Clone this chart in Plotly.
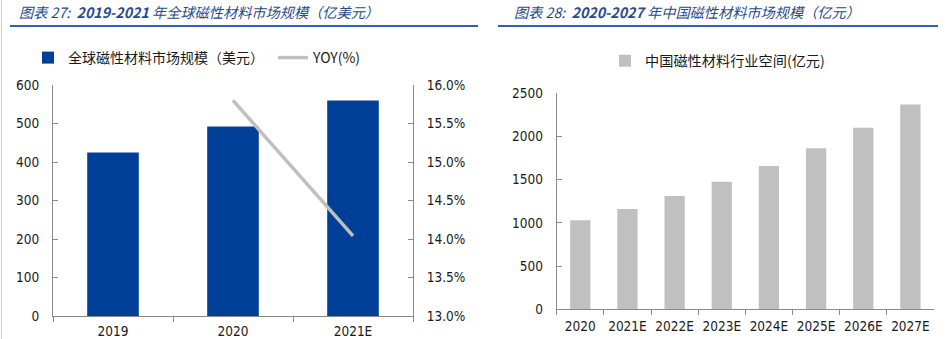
import plotly.graph_objects as go

# ---- data ----
cats_global = ["2019", "2020", "2021E"]
global_market = [425, 492, 560]          # 亿美元
yoy_cats = ["2020", "2021E"]
yoy_pct = [0.158, 0.1404]                # YOY

cats_china = ["2020", "2021E", "2022E", "2023E", "2024E", "2025E", "2026E", "2027E"]
china_market = [1030, 1160, 1310, 1475, 1660, 1865, 2100, 2370]  # 亿元

W, H = 949, 339
def px(x): return x / W
def py(y): return 1 - y / H

TICKFONT = dict(family="DejaVu Sans Condensed, Tahoma, Liberation Sans, sans-serif", size=13.5, color="#1a1a1a")
CJK = "Noto Sans CJK SC"
AX = "#8a8a8a"

fig = go.Figure()
fig.add_trace(go.Bar(x=cats_global, y=global_market, name="全球磁性材料市场规模（美元）",
                     marker=dict(color="#003F98", line=dict(width=0)),
                     xaxis="x", yaxis="y", legend="legend"))
fig.add_trace(go.Scatter(x=yoy_cats, y=yoy_pct, name="YOY(%)", mode="lines",
                         line=dict(color="#BFBFBF", width=3.5),
                         xaxis="x", yaxis="y2", legend="legend"))
fig.add_trace(go.Bar(x=cats_china, y=china_market, name="中国磁性材料行业空间(亿元)",
                     marker=dict(color="#C0C0C0", line=dict(width=0)),
                     xaxis="x3", yaxis="y3", legend="legend2"))

common_x = dict(type="category", showline=True, linecolor=AX, linewidth=1,
                ticks="outside", tickson="boundaries", ticklen=5, tickcolor=AX,
                showgrid=False, zeroline=False, tickfont=TICKFONT, fixedrange=True,
                automargin=False, tickangle=0)
common_y = dict(showline=True, linecolor=AX, linewidth=1, ticks="inside", ticklen=5,
                tickcolor=AX, showgrid=False, zeroline=False, tickfont=TICKFONT,
                automargin=False, ticklabelstandoff=10)

fig.update_layout(
    width=W, height=H, margin=dict(l=0, r=0, t=0, b=0),
    paper_bgcolor="white", plot_bgcolor="white",
    bargap=0.57,
    xaxis=dict(domain=[px(53), px(413)], anchor="y", ticklabelstandoff=3, **common_x),
    yaxis=dict(domain=[1 - 316 / H, 1 - 85 / H], range=[0, 600], dtick=100, anchor="x", **common_y),
    yaxis2=dict(range=[0.13, 0.16], dtick=0.005, tickformat=".1%", overlaying="y",
                side="right", anchor="x", **common_y),
    xaxis3=dict(domain=[px(556.7), px(934)], anchor="y3", ticklabelstandoff=4, **common_x),
    yaxis3=dict(domain=[1 - 309.3 / H, 1 - 93.3 / H], range=[0, 2500], dtick=500, anchor="x3", **common_y),
    legend=dict(orientation="h", x=px(28), y=py(58), xanchor="left", yanchor="middle",
                font=dict(family=CJK, size=14, color="#1a1a1a"), bgcolor="rgba(0,0,0,0)",
                entrywidth=200, entrywidthmode="pixels", itemwidth=30),
    legend2=dict(orientation="h", x=px(605), y=py(61), xanchor="left", yanchor="middle",
                 font=dict(family=CJK, size=14.2, color="#1a1a1a"), bgcolor="rgba(0,0,0,0)"),
    showlegend=True,
)

TITLE_COLOR = "#2A4A8E"
fig.add_annotation(text="<i>图表 27:  <b>2019-2021</b> 年全球磁性材料市场规模（亿美元）</i>",
                   xref="paper", yref="paper", x=px(17), y=py(12), xanchor="left", yanchor="middle",
                   showarrow=False, font=dict(family=CJK, size=14.2, color=TITLE_COLOR))
fig.add_annotation(text="<i>图表 28:  <b>2020-2027</b> 年中国磁性材料市场规模（亿元）</i>",
                   xref="paper", yref="paper", x=px(512), y=py(12), xanchor="left", yanchor="middle",
                   showarrow=False, font=dict(family=CJK, size=14.2, color=TITLE_COLOR))

fig.add_shape(type="line", xref="paper", yref="paper", x0=px(10), x1=px(478), y0=py(26), y1=py(26),
              line=dict(color="#2E62B6", width=2))
fig.add_shape(type="line", xref="paper", yref="paper", x0=px(498), x1=px(938), y0=py(26), y1=py(26),
              line=dict(color="#2E62B6", width=2))
fig.add_shape(type="line", xref="paper", yref="paper", x0=px(1.5), x1=px(1.5), y0=0, y1=1,
              line=dict(color="#D0D0D0", width=1))

fig.write_html("out.html")
